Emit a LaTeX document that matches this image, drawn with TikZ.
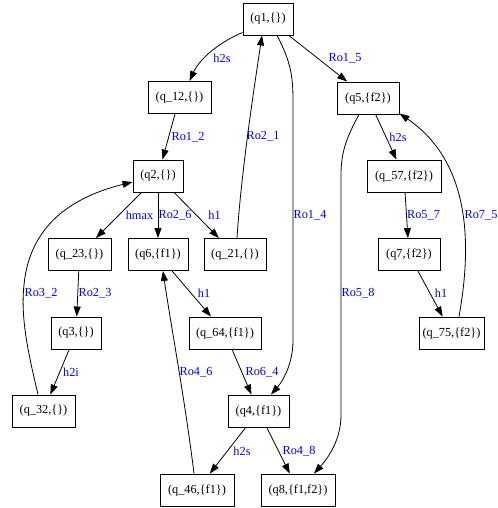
\documentclass[tikz,border=0pt]{standalone}
\usepackage{fontspec}
\setmainfont{Liberation Serif}
\usetikzlibrary{arrows.meta,calc}
\begin{document}
\begin{tikzpicture}[x=1bp,y=-1bp,
  every node/.style={font=\fontsize{12.3bp}{14bp}\selectfont},
  st/.style={draw, rectangle, inner sep=0pt, minimum height=32bp, line width=0.9bp},
  lbl/.style={text=blue, inner sep=0pt},
  edge/.style={-{Triangle[length=10bp,width=7bp]}, line width=0.8bp}]
\useasboundingbox (0,0) rectangle (498,508);
% states
\node[st, minimum width=50bp] (q1)  at (268,19)   {(q1,\{\})};
\node[st, minimum width=63bp] (q12) at (179.5,97.5) {(q\_12,\{\})};
\node[st, minimum width=62bp] (q5)  at (368,98)   {(q5,\{f2\})};
\node[st, minimum width=50bp] (q2)  at (158,176)  {(q2,\{\})};
\node[st, minimum width=74bp] (q57) at (404,176)  {(q\_57,\{f2\})};
\node[st, minimum width=63bp] (q23) at (79.5,254.5) {(q\_23,\{\})};
\node[st, minimum width=60bp] (q6)  at (158,254.5) {(q6,\{f1\})};
\node[st, minimum width=62bp] (q21) at (235,254.5) {(q\_21,\{\})};
\node[st, minimum width=62bp] (q7)  at (409,254.5) {(q7,\{f2\})};
\node[st, minimum width=50bp] (q3)  at (76,333)   {(q3,\{\})};
\node[st, minimum width=72bp] (q64) at (225,333)  {(q\_64,\{f1\})};
\node[st, minimum width=65bp] (q75) at (451.5,333) {(q\_75,\{f2\})};
\node[st, minimum width=63bp] (q32) at (43.5,411) {(q\_32,\{\})};
\node[st, minimum width=61bp] (q4)  at (258.5,411) {(q4,\{f1\})};
\node[st, minimum width=74bp] (q46) at (197,490)  {(q\_46,\{f1\})};
\node[st, minimum width=74bp] (q8)  at (298,490)  {(q8,\{f1,f2\})};
% straight transitions
\draw[edge] (q12) -- (q2);
\draw[edge] (q1) -- (q5);
\draw[edge] (q2) -- (q23);
\draw[edge] (q2) -- (q6);
\draw[edge] (q2) -- (q21);
\draw[edge] (q5) -- (q57);
\draw[edge] (q57) -- (q7);
\draw[edge] (q7) -- (q75);
\draw[edge] (q23) -- (q3);
\draw[edge] (q3) -- (q32);
\draw[edge] (q6) -- (q64);
\draw[edge] (q64) -- (q4);
\draw[edge] (q4) -- (q46);
\draw[edge] (q4) -- (q8);
% curved transitions
\draw[edge] ($(q1.south west)+(0,-3)$) .. controls (220,42) and (200,58) .. ($(q12.north)+(10,0)$);
\draw[edge] ($(q1.south)+(9,0)$) .. controls (290,60) and (293,75) .. (293,100) -- (293,340)
  .. controls (293,365) and (282,382) .. ($(q4.north)+(12.5,0)$);
\draw[edge] ($(q21.north)+(2,0)$) .. controls (241,175) and (253,95) .. ($(q1.south)+(-6,0)$);
\draw[edge] ($(q32.north)+(-5.5,0)$) .. controls (30,360) and (20,320) .. (24,285)
  .. controls (30,220) and (80,195) .. ($(q2.west)+(0,6)$);
\draw[edge] ($(q46.north)+(-3,0)$) .. controls (185,400) and (170,320) .. ($(q6.south)+(5,0)$);
\draw[edge] ($(q5.south)+(-9,0)$) .. controls (348,135) and (341,150) .. (341,175) -- (341,415)
  .. controls (341,440) and (328,458) .. ($(q8.north)+(16,0)$);
\draw[edge] ($(q75.north)+(7.5,0)$) .. controls (470,255) and (475,165) .. ($(q5.south east)+(0,-1)$);
% labels
\node[lbl] (l1)  at (222,58)    {h2s};
\node[lbl] (l2)  at (188,137)   {Ro1\_2};
\node[lbl] (l3)  at (345,58)    {Ro1\_5};
\node[lbl] (l4)  at (263,136)   {Ro2\_1};
\node[lbl] (l5)  at (310,215)   {Ro1\_4};
\node[lbl] (l6)  at (139.5,215) {hmax};
\node[lbl] (l7)  at (175,215)   {Ro2\_6};
\node[lbl] (l8)  at (214.5,215) {h1};
\node[lbl] (l9)  at (423.5,215) {Ro5\_7};
\node[lbl] (l10) at (481,215)   {Ro7\_5};
\node[lbl] (l11) at (398,137)   {h2s};
\node[lbl] (l12) at (41,293)    {Ro3\_2};
\node[lbl] (l13) at (95,293)    {Ro2\_3};
\node[lbl] (l14) at (204,293)   {h1};
\node[lbl] (l15) at (358,293)   {Ro5\_8};
\node[lbl] (l16) at (441,293)   {h1};
\node[lbl] (l17) at (71,372)    {h2i};
\node[lbl] (l18) at (196,372)   {Ro4\_6};
\node[lbl] (l19) at (262,372)   {Ro6\_4};
\node[lbl] (l20) at (242,451)   {h2s};
\node[lbl] (l21) at (299,451)   {Ro4\_8};
\end{tikzpicture}
\end{document}
